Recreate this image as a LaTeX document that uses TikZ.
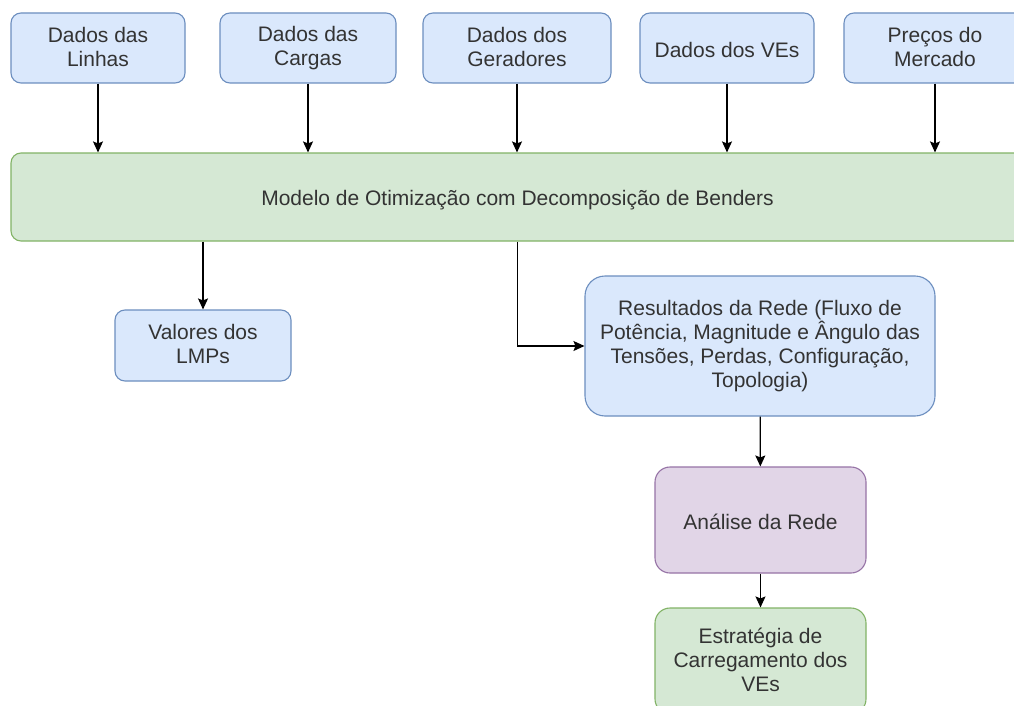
\documentclass[tikz,border=0pt]{standalone}
\usepackage{fontspec}
\setmainfont{Liberation Sans}
\usetikzlibrary{arrows.meta}
\definecolor{bluefill}{HTML}{DAE8FC}
\definecolor{bluedraw}{HTML}{6C8EBF}
\definecolor{greenfill}{HTML}{D5E8D4}
\definecolor{greendraw}{HTML}{82B366}
\definecolor{purplefill}{HTML}{E1D5E7}
\definecolor{purpledraw}{HTML}{9673A6}
\definecolor{txt}{HTML}{333333}
\newcommand\boxstrut{\rule[-2.5pt]{0pt}{24pt}}

\begin{document}
\begin{tikzpicture}[x=1pt,y=-1pt,
    box/.style={rounded corners=10pt,line width=1.1pt,align=center,text=txt,
        font=\fontsize{21}{24}\selectfont,inner sep=0pt,
        execute at begin node=\boxstrut,execute at end node=\boxstrut},
    bluebox/.style={box,fill=bluefill,draw=bluedraw},
    greenbox/.style={box,fill=greenfill,draw=greendraw},
    purplebox/.style={box,fill=purplefill,draw=purpledraw},
    arr/.style={line width=1.2pt,-{Stealth[length=11pt,width=10pt,inset=2pt]}}]
            \useasboundingbox[fill=white] (0,0) rectangle (1014,706);
            % entradas
            \node[bluebox,minimum width=174pt,minimum height=70pt] (lin) at (98,48) {Dados das\\Linhas};
            \node[bluebox,minimum width=176pt,minimum height=70pt] (car) at (308,48) {Dados das\\Cargas};
            \node[bluebox,minimum width=188pt,minimum height=70pt] (ger) at (517,48) {Dados dos\\Geradores};
            \node[bluebox,minimum width=174pt,minimum height=70pt] (ves) at (727,48) {Dados dos VEs};
            \node[bluebox,minimum width=182pt,minimum height=70pt] (pre) at (935,48) {Preços do\\Mercado};
            % modelo
            \node[greenbox,minimum width=1013pt,minimum height=88pt] (mod) at (517.5,197) {Modelo de Otimização com Decomposição de Benders};
            % saidas
            \node[bluebox,minimum width=176pt,minimum height=71pt] (lmp) at (203,345.5) {Valores dos\\LMPs};
            \node[bluebox,rounded corners=20pt,minimum width=350pt,minimum height=140pt] (res) at (760,346) {Resultados da Rede (Fluxo de\\Potência, Magnitude e Ângulo das\\Tensões, Perdas, Configuração,\\Topologia)};
            \node[purplebox,rounded corners=15pt,minimum width=211pt,minimum height=106pt] (ana) at (760.5,520) {Análise da Rede};
            \node[greenbox,rounded corners=15pt,minimum width=211pt,minimum height=106pt] (est) at (760.5,661) {Estratégia de\\Carregamento dos\\VEs};
            \foreach \n in {lin,car,ger,ves,pre}
                \draw[arr] (\n) -- (\n |- mod.north);
            \draw[arr] (mod.south -| lmp) -- (lmp);
            \draw[arr] (mod.south) |- (res.west);
            \draw[arr] (res) -- (ana);
            \draw[arr] (ana) -- (est);
        \end{tikzpicture}
\end{document}
